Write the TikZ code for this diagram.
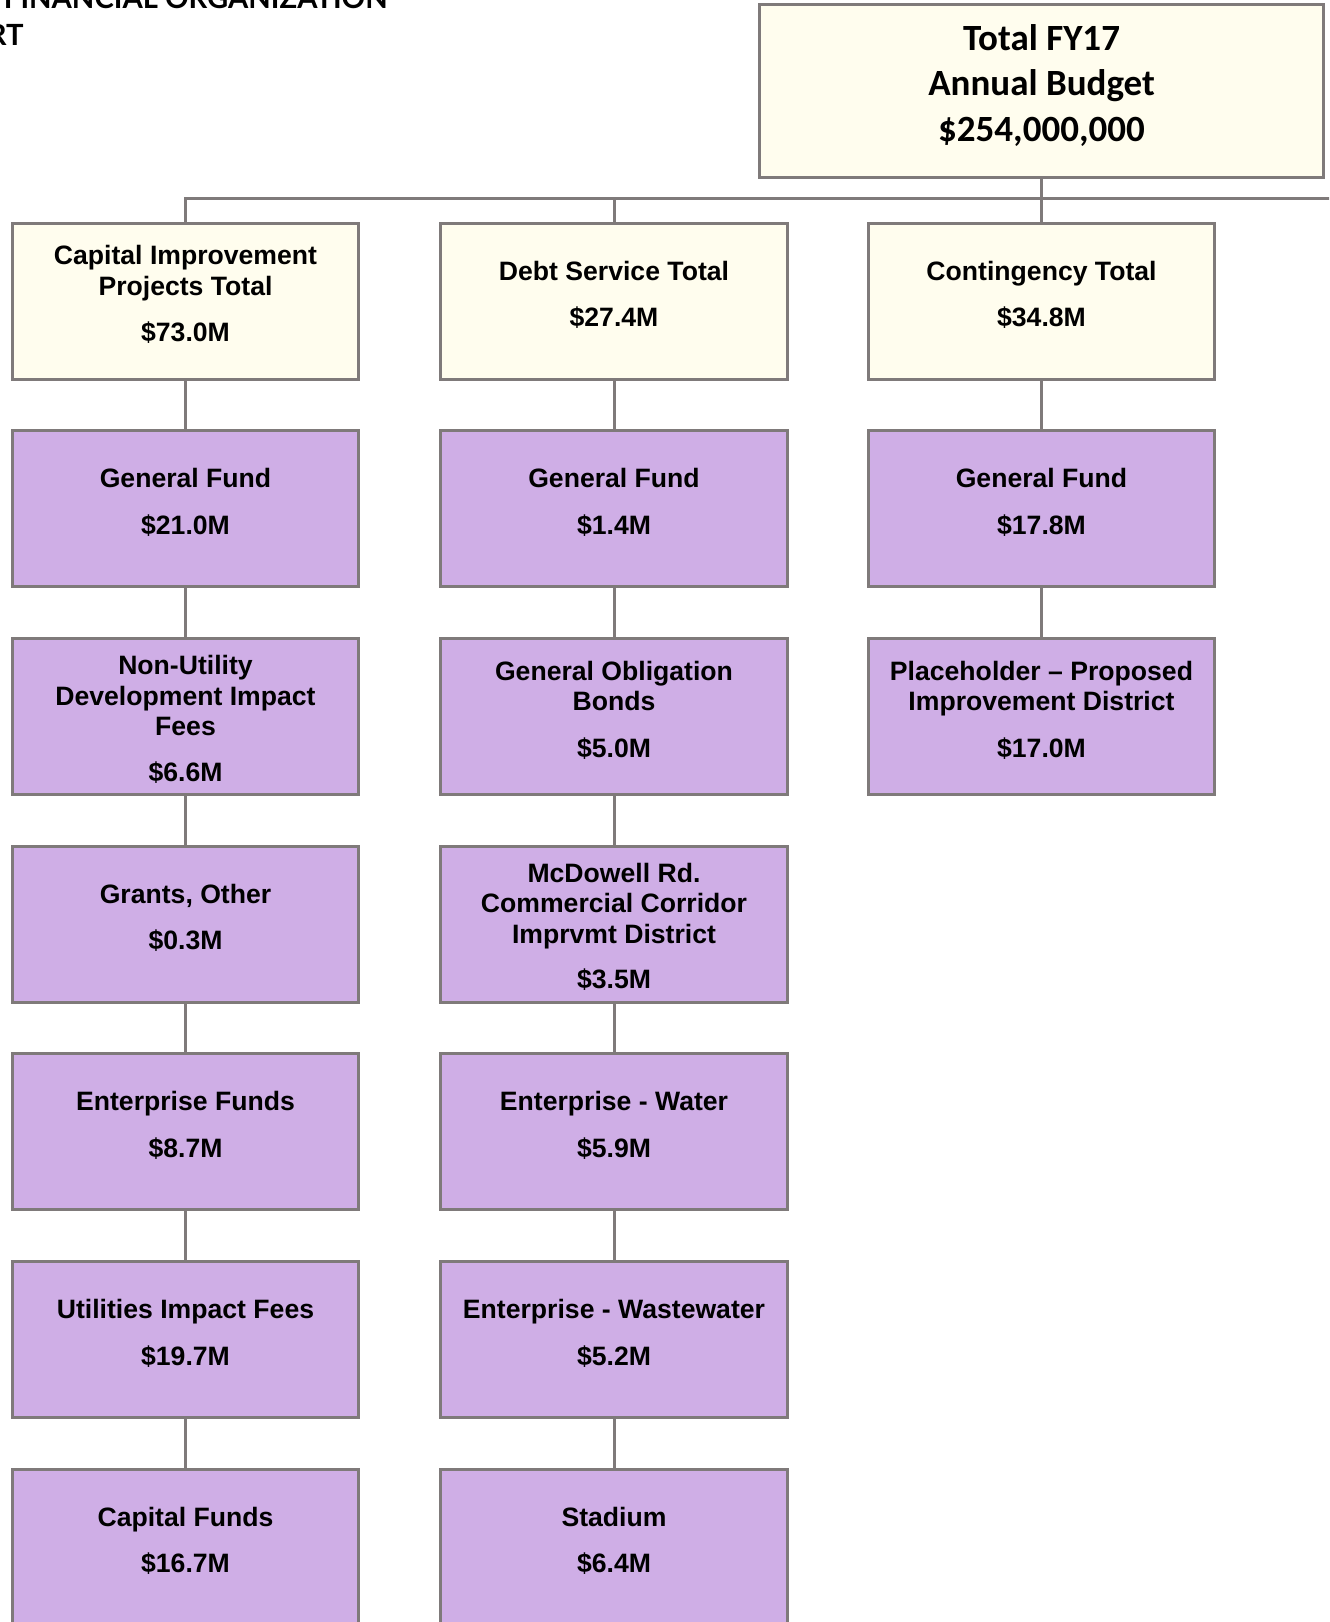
\documentclass[tikz,border=0pt]{standalone}
\usepackage{fontspec}
\setmainfont{Liberation Sans}
\newfontfamily\budgetfont{Carlito}
\newfontfamily\headfont{Lato}
\usepackage{xcolor}
\definecolor{line-gray}{RGB}{127,122,122}
\definecolor{total-light}{RGB}{255,253,238}
\definecolor{fund-base}{RGB}{207,174,230}
\definecolor{text-primary}{RGB}{0,0,0}
\usepackage{tikz}
\usetikzlibrary{positioning}

\begin{document}
\begin{tikzpicture}[
  x=0.5pt, y=-0.5pt,
  node distance=24.35pt,
  fund/.style={
    rectangle,
    draw=line-gray,
    line width=1.5pt,
    fill=fund-base,
    minimum width=173.3pt,
    minimum height=78pt,
    inner sep=0pt
  },
  sumbox/.style={
    fund,
    fill=total-light
  },
  fundtext/.style={
    font=\bfseries\fontsize{13.3}{15.3}\selectfont,
    align=center,
    inner sep=0pt,
    text=text-primary
  },
  link/.style={
    draw=line-gray,
    line width=1.5pt
  },
  heading/.style={
    font=\headfont\bfseries\fontsize{14.6}{18}\selectfont,
    inner sep=0pt
  }
]
\useasboundingbox (0,0) rectangle (1329,1622);
\clip (0,0) rectangle (1329,1622);

% Heading (cut by the page edge)
\node[heading, anchor=base east] (head-a) at (388,9) {FINANCIAL ORGANIZATION};
\node[heading, anchor=base east] (head-b) at (24,45) {RT};

% Total budget
\node[sumbox, minimum width=282pt, minimum height=86.5pt] (budget) at (1041.5,91) {};
\node[fundtext, font=\budgetfont\bfseries\fontsize{18.5}{22.75}\selectfont, below=10.5pt of budget.north] (budget-t) {Total FY17\\Annual Budget\\\$254,000,000};

% Column totals
\node[sumbox] (cip) at (185.5,301) {};
\node[sumbox] (debt) at (614,301) {};
\node[sumbox] (cont) at (1041.5,301) {};

% Capital improvement column
\node[fund, below=of cip] (cip-gf) {};
\node[fund, below=of cip-gf] (cip-dif) {};
\node[fund, below=of cip-dif] (cip-grant) {};
\node[fund, below=of cip-grant] (cip-ent) {};
\node[fund, below=of cip-ent] (cip-uif) {};
\node[fund, below=of cip-uif] (cip-cap) {};

% Debt service column
\node[fund, below=of debt] (debt-gf) {};
\node[fund, below=of debt-gf] (debt-gob) {};
\node[fund, below=of debt-gob] (debt-mcd) {};
\node[fund, below=of debt-mcd] (debt-water) {};
\node[fund, below=of debt-water] (debt-ww) {};
\node[fund, below=of debt-ww] (debt-stad) {};

% Contingency column
\node[fund, below=of cont] (cont-gf) {};
\node[fund, below=of cont-gf] (cont-pid) {};

% Box texts
\node[fundtext, below=11.8pt of cip.north] (cip-t) {Capital Improvement\\Projects Total\\[8pt]\$73.0M};
\node[fundtext, below=19.5pt of debt.north] (debt-t) {Debt Service Total\\[8pt]\$27.4M};
\node[fundtext, below=19.5pt of cont.north] (cont-t) {Contingency Total\\[8pt]\$34.8M};

\node[fundtext, below=19.5pt of cip-gf.north] (cip-gf-t) {General Fund\\[8pt]\$21.0M};
\node[fundtext, below=8.95pt of cip-dif.north] (cip-dif-t) {Non-Utility\\Development Impact\\Fees\\[7.5pt]\$6.6M};
\node[fundtext, below=19.5pt of cip-grant.north] (cip-grant-t) {Grants, Other\\[8pt]\$0.3M};
\node[fundtext, below=19.5pt of cip-ent.north] (cip-ent-t) {Enterprise Funds\\[8pt]\$8.7M};
\node[fundtext, below=19.5pt of cip-uif.north] (cip-uif-t) {Utilities Impact Fees\\[8pt]\$19.7M};
\node[fundtext, below=19.5pt of cip-cap.north] (cip-cap-t) {Capital Funds\\[8pt]\$16.7M};

\node[fundtext, below=19.5pt of debt-gf.north] (debt-gf-t) {General Fund\\[8pt]\$1.4M};
\node[fundtext, below=11.8pt of debt-gob.north] (debt-gob-t) {General Obligation\\Bonds\\[8pt]\$5.0M};
\node[fundtext, below=8.95pt of debt-mcd.north] (debt-mcd-t) {McDowell Rd.\\Commercial Corridor\\Imprvmt District\\[7.5pt]\$3.5M};
\node[fundtext, below=19.5pt of debt-water.north] (debt-water-t) {Enterprise - Water\\[8pt]\$5.9M};
\node[fundtext, below=19.5pt of debt-ww.north] (debt-ww-t) {Enterprise - Wastewater\\[8pt]\$5.2M};
\node[fundtext, below=19.5pt of debt-stad.north] (debt-stad-t) {Stadium\\[8pt]\$6.4M};

\node[fundtext, below=19.5pt of cont-gf.north] (cont-gf-t) {General Fund\\[8pt]\$17.8M};
\node[fundtext, below=11.8pt of cont-pid.north] (cont-pid-t) {Placeholder -- Proposed\\Improvement District\\[8pt]\$17.0M};

% Connectors
\coordinate (bar-end) at (1345,198);
\draw[link] (budget.south) -- (cont.north);
\draw[link] (cip.north) |- (bar-end);
\draw[link] (debt.north) -- (debt.north |- bar-end);
\foreach \a/\b in {cip/cip-gf, cip-gf/cip-dif, cip-dif/cip-grant, cip-grant/cip-ent, cip-ent/cip-uif, cip-uif/cip-cap,
  debt/debt-gf, debt-gf/debt-gob, debt-gob/debt-mcd, debt-mcd/debt-water, debt-water/debt-ww, debt-ww/debt-stad,
  cont/cont-gf, cont-gf/cont-pid}
  \draw[link] (\a) -- (\b);

\end{tikzpicture}
\end{document}
